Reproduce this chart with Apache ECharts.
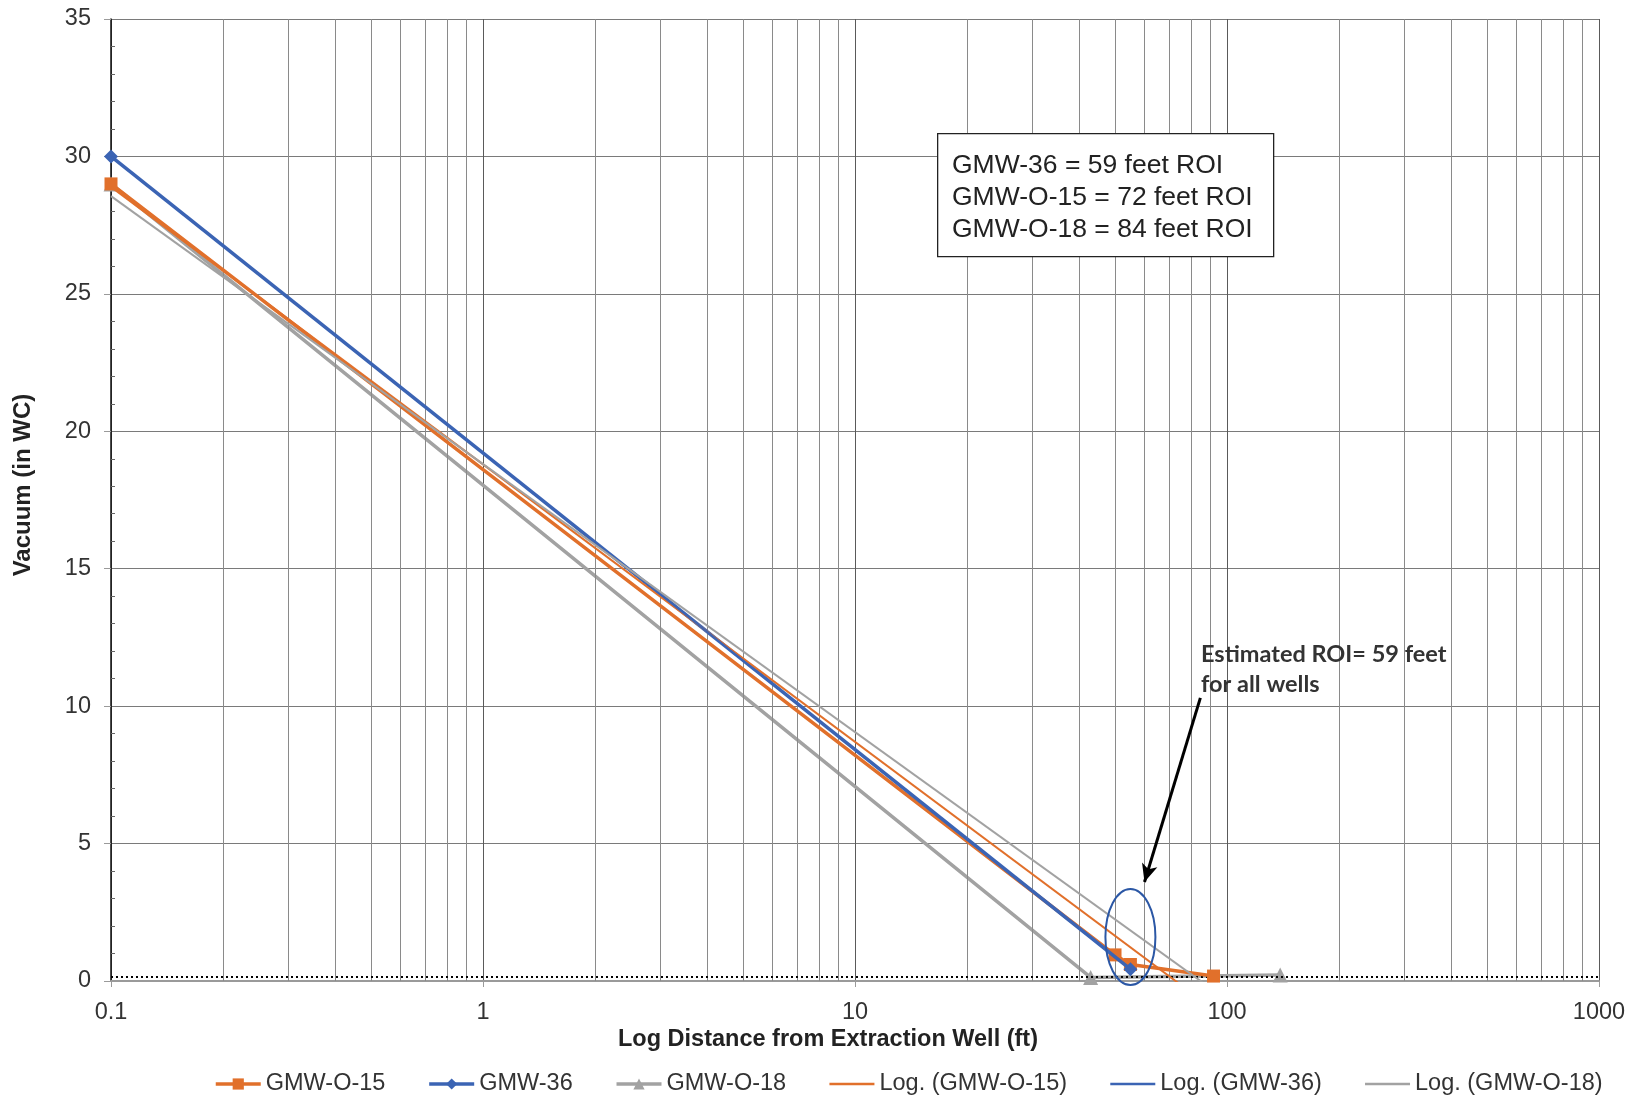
<!DOCTYPE html>
<html>
<head>
<meta charset="utf-8">
<script src="https://cdn.jsdelivr.net/npm/echarts@6/dist/echarts.min.js"></script>
<style>
html,body{margin:0;padding:0;background:#fff;}
#chart{width:1637px;height:1103px;}
</style>
</head>
<body>
<div id="chart"></div>
<script>
// ---- data ----
const o15Dist = [0.1, 50, 55, 92];
const o15Vac  = [29, 0.95, 0.6, 0.18];
const g36Dist = [0.1, 55];
const g36Vac  = [30, 0.43];
const o18Dist = [0.1, 43, 139];
const o18Vac  = [29, 0.13, 0.22];
const seriesNames = ['GMW-O-15', 'GMW-36', 'GMW-O-18'];
const trendNames = ['Log. (GMW-O-15)', 'Log. (GMW-36)', 'Log. (GMW-O-18)'];
const minorGridX = [0.2,0.3,0.4,0.5,0.6,0.7,0.8,0.9, 2,3,4,5,6,7,8,9, 20,30,40,50,60,70,80,90, 200,300,400,500,600,700,800,900];
const dottedLevel = 0.15;
const boxLines = ['GMW-36 = 59 feet ROI', 'GMW-O-15 = 72 feet ROI', 'GMW-O-18 = 84 feet ROI'];
const noteText = 'Estimated ROI= 59 feet\nfor all wells';
const xTitle = 'Log Distance from Extraction Well (ft)';
const yTitle = 'Vacuum (in WC)';
const arrowFrom = [84.8, 10.3];
const arrowTo = [60, 3.6];
const ellipseCenter = [55, 1.6];

const ORANGE = '#E1702B', BLUE = '#3B64B4', GRAY = '#A2A2A2';
const FONT = '"Liberation Sans", Arial, sans-serif';

function pairs(xs, ys){ return xs.map((x,i)=>[x, ys[i]]); }
// logarithmic least-squares trendline (y = a*log10(x) + b), drawn over the data's x range
function logTrend(xs, ys){
  const n = xs.length, lx = xs.map(v=>Math.log10(v));
  const mx = lx.reduce((a,b)=>a+b,0)/n, my = ys.reduce((a,b)=>a+b,0)/n;
  let sxy=0, sxx=0;
  for(let i=0;i<n;i++){ sxy += (lx[i]-mx)*(ys[i]-my); sxx += (lx[i]-mx)*(lx[i]-mx); }
  const a = sxy/sxx, b = my - a*mx;
  const x0 = Math.min(...xs), x1 = Math.max(...xs);
  return [[x0, a*Math.log10(x0)+b], [x1, a*Math.log10(x1)+b]];
}

const chart = echarts.init(document.getElementById('chart'), null, {renderer:'canvas'});

const option = {
  backgroundColor: '#fff',
  animation: false,
  grid: {left: 111, right: 38, top: 19, bottom: 122, containLabel: false},
  xAxis: {
    type: 'log', logBase: 10, min: 0.1, max: 1000,
    axisLine: {show: true, onZero: false, lineStyle: {color: '#9a9a9a', width: 2}},
    axisTick: {show: true, length: 6, lineStyle: {color: '#9a9a9a'}},
    axisLabel: {fontFamily: FONT, fontSize: 23.5, color: '#333', margin: 20,
      formatter: v => String(+v.toPrecision(3))},
    splitLine: {show: true, lineStyle: {color: '#5a5a5a', width: 1}}
  },
  yAxis: [{
    type: 'value', min: 0, max: 35, interval: 5,
    axisLine: {show: true, lineStyle: {color: '#111', width: 1.5}},
    axisTick: {show: true, length: 7, lineStyle: {color: '#9a9a9a'}},
    axisLabel: {fontFamily: FONT, fontSize: 23.5, color: '#333', margin: 20},
    splitLine: {show: true, lineStyle: {color: '#7a7a7a', width: 1}}
  }, {
    type: 'value', min: 0, max: 35, interval: 5, position: 'left', offset: 0,
    axisLine: {show: false},
    axisTick: {show: false, inside: true},
    minorTick: {show: true, splitNumber: 5, length: 4, lineStyle: {color: '#666'}},
    axisLabel: {show: false},
    splitLine: {show: false}
  }],
  legend: {
    left: 209, top: 1067, itemWidth: 45, itemHeight: 14, itemGap: 42,
    textStyle: {fontFamily: FONT, fontSize: 23.5, color: '#333'},
    data: [
      {name: seriesNames[0], lineStyle: {width: 3.5}},
      {name: seriesNames[1], lineStyle: {width: 3.5}},
      {name: seriesNames[2], lineStyle: {width: 3.5}},
      {name: trendNames[0], itemStyle: {opacity: 0}, lineStyle: {width: 2.5}},
      {name: trendNames[1], itemStyle: {opacity: 0}, lineStyle: {width: 2.5}},
      {name: trendNames[2], itemStyle: {opacity: 0}, lineStyle: {width: 2.5}}
    ]
  },
  series: [
    {
      name: '__minorgrid', type: 'line', data: [], silent: true, z: 1,
      markLine: {silent: true, symbol: ['none','none'], label: {show:false},
        lineStyle: {color: '#8a8a8a', width: 1, type: 'solid'},
        emphasis: {disabled: true},
        data: minorGridX.map(v => ({xAxis: v}))}
    },
    {
      name: '__dotted', type: 'line', data: [], silent: true, z: 3,
      markLine: {silent: true, symbol: ['none','none'], label: {show:false},
        lineStyle: {color: '#000', width: 2, type: [2, 3]},
        emphasis: {disabled: true},
        data: [{yAxis: dottedLevel}]}
    },
    {
      name: seriesNames[0], type: 'line', data: pairs(o15Dist, o15Vac), z: 5,
      symbol: 'rect', symbolSize: 13, showAllSymbol: true,
      itemStyle: {color: ORANGE}, lineStyle: {color: ORANGE, width: 3.5}
    },
    {
      name: seriesNames[1], type: 'line', data: pairs(g36Dist, g36Vac), z: 6,
      symbol: 'diamond', symbolSize: 14,
      itemStyle: {color: BLUE}, lineStyle: {color: BLUE, width: 3.5}
    },
    {
      name: seriesNames[2], type: 'line', data: pairs(o18Dist, o18Vac), z: 4,
      symbol: 'triangle', symbolSize: 15,
      itemStyle: {color: GRAY}, lineStyle: {color: GRAY, width: 3.5}
    },
    {
      name: trendNames[0], type: 'line', data: logTrend(o15Dist, o15Vac), z: 7,
      showSymbol: false, symbol: 'none', clip: true,
      itemStyle: {color: ORANGE}, lineStyle: {color: ORANGE, width: 2}
    },
    {
      name: trendNames[1], type: 'line', data: logTrend(g36Dist, g36Vac), z: 7,
      showSymbol: false, symbol: 'none', clip: true,
      itemStyle: {color: BLUE}, lineStyle: {color: BLUE, width: 2}
    },
    {
      name: trendNames[2], type: 'line', data: logTrend(o18Dist, o18Vac), z: 7,
      showSymbol: false, symbol: 'none', clip: true,
      itemStyle: {color: GRAY}, lineStyle: {color: GRAY, width: 2},
      markLine: {silent: true, symbol: ['none','arrow'], symbolSize: [12, 18], label: {show:false},
        lineStyle: {color: '#000', width: 3, type: 'solid'},
        emphasis: {disabled: true},
        data: [[{coord: arrowFrom}, {coord: arrowTo}]]}
    }
  ]
};
chart.setOption(option);

const ec = chart.convertToPixel({xAxisIndex:0, yAxisIndex:0}, ellipseCenter);
chart.setOption({
  graphic: [
    {type: 'rect', left: 937, top: 133, z: 50,
      shape: {width: 336, height: 123}, style: {fill: '#fff', stroke: '#222', lineWidth: 1.3}},
    {type: 'text', left: 952, top: 150, z: 51,
      style: {text: boxLines.join('\n'), fontFamily: FONT, fontSize: 26.5, lineHeight: 31.7, fill: '#222'}},
    {type: 'text', left: 1201, top: 639, z: 51,
      style: {text: noteText, fontFamily: 'Lato, "Open Sans", sans-serif', fontWeight: 'bold', fontSize: 23.5, lineHeight: 30, fill: '#333'}},
    {type: 'ellipse', z: 52, silent: true,
      shape: {cx: ec[0], cy: ec[1], rx: 25, ry: 48}, style: {fill: 'none', stroke: '#2B57A5', lineWidth: 2}},
    {type: 'text', x: 23, y: 485, rotation: Math.PI/2, z: 51,
      style: {text: yTitle, fontFamily: FONT, fontWeight: 'bold', fontSize: 24, fill: '#222', align: 'center', verticalAlign: 'middle'}},
    {type: 'text', x: 828, y: 1040, z: 51,
      style: {text: xTitle, fontFamily: FONT, fontWeight: 'bold', fontSize: 23.5, fill: '#222', align: 'center', verticalAlign: 'middle'}}
  ]
});
</script>
</body>
</html>
